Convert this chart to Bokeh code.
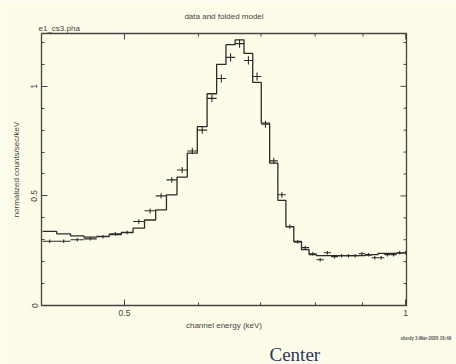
import numpy as np
from bokeh.plotting import figure
from bokeh.models import Range1d, FixedTicker, Title, ColumnDataSource
from bokeh.embed import file_html
from bokeh.resources import INLINE

# channel bin edges (keV)
bin_edges = [0.4085, 0.4231, 0.4377, 0.4523, 0.4669, 0.4815, 0.4961, 0.5107, 0.5253, 0.5399,
             0.5545, 0.5691, 0.5837, 0.5983, 0.6129, 0.6275, 0.6421, 0.6567, 0.6713, 0.6859,
             0.7005, 0.7151, 0.7297, 0.7443, 0.7589, 0.7735, 0.7881, 0.8027, 0.8173, 0.8319,
             0.8465, 0.8611, 0.8757, 0.8903, 0.9049, 0.9195, 0.9341, 0.9487, 0.9633, 0.9779,
             0.9925, 1.0071]

# data (normalized counts/sec/keV)
data_rate = [0.293, 0.293, 0.300, 0.304, 0.314, 0.327, 0.333, 0.383, 0.432, 0.500,
             0.573, 0.618, 0.705, 0.800, 0.945, 1.036, 1.132, 1.195, 1.118, 1.045,
             0.827, 0.660, 0.505, 0.360, 0.290, 0.264, 0.236, 0.209, 0.241, 0.223,
             0.227, 0.227, 0.227, 0.236, 0.232, 0.218, 0.218, 0.232, 0.232, 0.241,
             0.241]
data_err = [0.008, 0.008, 0.008, 0.008, 0.008, 0.008, 0.008, 0.010, 0.011, 0.012,
            0.013, 0.014, 0.015, 0.016, 0.017, 0.018, 0.019, 0.019, 0.019, 0.018,
            0.016, 0.014, 0.012, 0.010, 0.008, 0.008, 0.008, 0.008, 0.008, 0.008,
            0.008, 0.008, 0.008, 0.008, 0.008, 0.008, 0.008, 0.008, 0.008, 0.008,
            0.008]

# folded model
model_rate = [0.338, 0.327, 0.318, 0.312, 0.315, 0.323, 0.333, 0.353, 0.390, 0.436,
              0.505, 0.586, 0.695, 0.816, 0.966, 1.100, 1.190, 1.212, 1.150, 1.018,
              0.832, 0.650, 0.480, 0.360, 0.292, 0.255, 0.232, 0.228, 0.228, 0.228,
              0.228, 0.228, 0.228, 0.228, 0.230, 0.232, 0.238, 0.238, 0.238, 0.239,
              0.240]

x_major = [0.5, 1.0]
x_minor = [0.6, 0.7, 0.8, 0.9]
y_major = [0, 0.5, 1.0]
y_minor = [0.1, 0.2, 0.3, 0.4, 0.6, 0.7, 0.8, 0.9, 1.1, 1.2]

BG = "#fdfce9"
INK = "#2b2b2b"
AX = "#444444"
FONT = "Liberation Sans"

X0, X1 = 0.4075, 1.002
Y0, Y1 = 0.0, 1.241
FW, FH = 365, 273  # frame size in px

edges = np.array(bin_edges)
lo = edges[:-1]
hi = edges[1:]
mid = (lo + hi) / 2
rate = np.array(data_rate)
err = np.array(data_err)

p = figure(width=456, height=364, x_axis_type="log",
           x_range=Range1d(X0, X1), y_range=Range1d(Y0, Y1),
           output_backend="svg", toolbar_location=None,
           min_border_left=41, min_border_right=50, min_border_top=33, min_border_bottom=58)
p.title.visible = False
p.background_fill_color = BG
p.border_fill_color = BG
p.outline_line_color = AX
p.outline_line_width = 1.3
p.xgrid.visible = False
p.ygrid.visible = False

# model step histogram
sx = np.repeat(edges, 2)[1:-1]
sy = np.repeat(np.array(model_rate), 2)
p.line(sx, sy, line_color=INK, line_width=1.3)

# data crosses
src = ColumnDataSource(dict(lo=lo, hi=hi, mid=mid, y=rate, ylo=rate - err, yhi=rate + err))
p.segment(x0="lo", x1="hi", y0="y", y1="y", source=src, line_color=INK, line_width=1.1)
p.segment(x0="mid", x1="mid", y0="ylo", y1="yhi", source=src, line_color=INK, line_width=1.1)

# mirrored inward ticks on top and right edges
dy_major = 6 * (Y1 - Y0) / FH
dy_minor = 3 * (Y1 - Y0) / FH
fx_major = 10 ** (6 * np.log10(X1 / X0) / FW)
fx_minor = 10 ** (3 * np.log10(X1 / X0) / FW)
tx = x_major + x_minor
tlen = [dy_major] * len(x_major) + [dy_minor] * len(x_minor)
p.segment(x0=tx, x1=tx, y0=[Y1] * len(tx), y1=[Y1 - d for d in tlen], line_color=AX, line_width=1)
ty = y_major + y_minor
tf = [fx_major] * len(y_major) + [fx_minor] * len(y_minor)
p.segment(x0=[X1] * len(ty), x1=[X1 / f for f in tf], y0=ty, y1=ty, line_color=AX, line_width=1)

def style_axis(ax):
    ax.major_tick_in = 6
    ax.major_tick_out = 0
    ax.minor_tick_in = 3
    ax.minor_tick_out = 0
    ax.axis_line_color = AX
    ax.major_tick_line_color = AX
    ax.minor_tick_line_color = AX
    ax.major_label_text_font = FONT
    ax.major_label_text_color = AX
    ax.major_label_text_font_size = "8.5px"
    ax.axis_label_text_font = FONT
    ax.axis_label_text_font_style = "normal"
    ax.axis_label_text_font_size = "8px"
    ax.axis_label_text_color = AX

xa = p.xaxis[0]
xa.ticker = FixedTicker(ticks=x_major, minor_ticks=x_minor)
xa.major_label_overrides = {0.5: "0.5", 1.0: "1"}
style_axis(xa)
xa.major_label_standoff = 4
xa.axis_label = "channel energy (keV)"
xa.axis_label_standoff = 2

ya = p.yaxis[0]
ya.ticker = FixedTicker(ticks=y_major, minor_ticks=y_minor)
ya.major_label_overrides = {0: "0", 0.5: "0.5", 1.0: "1"}
style_axis(ya)
ya.major_label_orientation = "vertical"
ya.major_label_standoff = 4
ya.axis_label = "normalized counts/sec/keV"
ya.axis_label_standoff = 8

# texts outside the frame
p.add_layout(Title(text="e1_cs3.pha", align="left", text_font=FONT, text_font_size="8px",
                   text_font_style="normal", text_color=AX, standoff=2, offset=-3), "above")
p.add_layout(Title(text="data and folded model", align="center", text_font=FONT,
                   text_font_size="8px", text_font_style="normal", text_color=AX,
                   standoff=0), "above")
p.add_layout(Title(text="sbody  3-Mar-2005 16:49", align="right", text_font=FONT,
                   text_font_size="4.5px", text_font_style="bold", text_color="#555555",
                   standoff=2, offset=-46), "below")
p.add_layout(Title(text="Center", align="left", text_font="Liberation Serif",
                   text_font_size="19px", text_font_style="normal", text_color="#2a3760",
                   standoff=0, offset=228), "below")

open("out.html", "w").write(file_html(p, INLINE))
